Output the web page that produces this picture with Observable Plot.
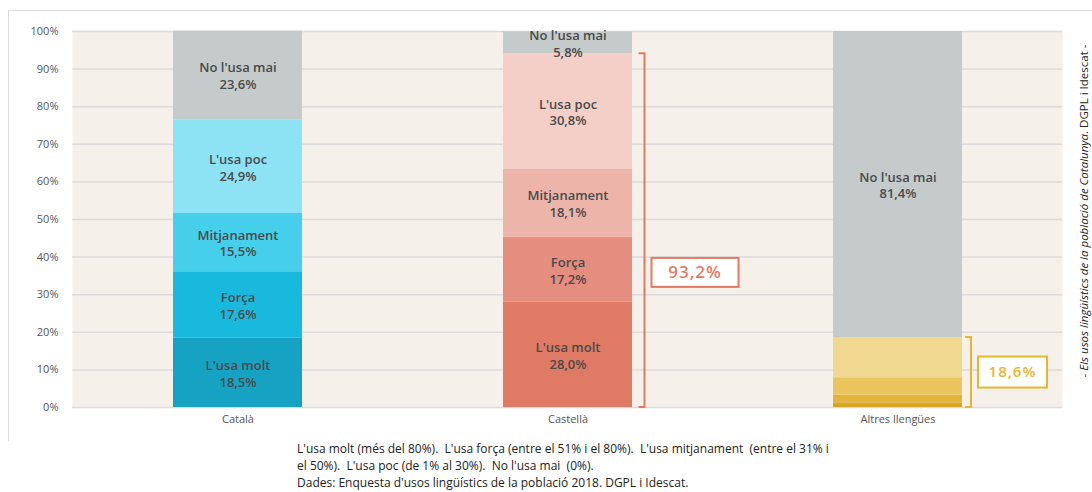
<!DOCTYPE html>
<html><head><meta charset="utf-8">
<script src="https://cdn.jsdelivr.net/npm/d3@7"></script>
<script src="https://cdn.jsdelivr.net/npm/@observablehq/plot@0.6"></script>
<style>
body{margin:0;background:#fff;font-family:"Open Sans",sans-serif;}
#wrap{position:relative;width:1092px;height:492px;overflow:hidden;}
#frame{position:absolute;left:8px;top:10px;width:1200px;height:430px;border-left:1px solid #dcdcdc;border-top:1px solid #dcdcdc;}
#chart{position:absolute;left:0;top:0;}
#note{position:absolute;left:297px;top:440px;font-size:12px;line-height:17px;color:#222;white-space:pre;}
#side{position:absolute;left:1083px;top:211px;transform:translate(-50%,-50%) rotate(-90deg);white-space:nowrap;font-size:11.5px;color:#222;}
</style></head>
<body>
<div id="wrap">
  <div id="frame"></div>
  <div id="chart"></div>
  <div id="side">- <i>Els usos lingüístics de la població de Catalunya</i>. DGPL i Idescat -</div>
  <div id="note">L'usa molt (més del 80%).  L'usa força (entre el 51% i el 80%).  L'usa mitjanament  (entre el 31% i
el 50%).  L'usa poc (de 1% al 30%).  No l'usa mai  (0%).
Dades: Enquesta d'usos lingüístics de la població 2018. DGPL i Idescat.</div>
</div>
<script>
const languages = ["Català", "Castellà", "Altres llengües"];
const categories = ["L'usa molt", "Força", "Mitjanament", "L'usa poc", "No l'usa mai"];
const catala   = [18.5, 17.6, 15.5, 24.9, 23.6];
const castella = [28.0, 17.2, 18.1, 30.8, 5.8];
const altres   = [1.2, 2.1, 4.6, 10.7, 81.4];
const yTicks = [0,10,20,30,40,50,60,70,80,90,100];
const totals = {"Castellà": 93.2, "Altres llengües": 18.6};

const palettes = {
  "Català":          ["#15a2c3", "#18b9dd", "#45cfea", "#8de2f4", "#c4cbca"],
  "Castellà":        ["#df7a65", "#e58d7e", "#edb5aa", "#f3cfc8", "#c4cbca"],
  "Altres llengües": ["#d8a420", "#e2b53a", "#eac45c", "#f1d890", "#c4cbca"]
};

const fmt = v => v.toFixed(1).replace(".", ",") + "%";
const series = [catala, castella, altres];
const rows = languages.flatMap((lang, i) => series[i].map((v, j) => ({
  lang, cat: categories[j], value: v, color: palettes[lang][j],
  label: (i < 2 || j === 4) ? categories[j] + "\n" + fmt(v) : null
})));

// annotation styling (not data)
const brackets = [
  {lang: "Castellà", color: "#e27a63", off: 12.5, boxCenter: 35.8, boxW: 87, boxH: 29, fs: 17},
  {lang: "Altres llengües", color: "#e8b62e", off: 9, boxCenter: 9.3, boxW: 69, boxH: 31, fs: 15}
];

function bracketMark(index, scales) {
  const x = scales.x, y = scales.y;
  const bw = typeof x.bandwidth === "function" ? x.bandwidth() : (x.bandwidth || 0);
  const g = d3.create("svg:g");
  for (const b of brackets) {
    const vals = series[languages.indexOf(b.lang)];
    const top = d3.sum(vals.slice(0, 4));
    const lx = x(b.lang) + bw + b.off;
    const y0 = y(0), y1 = y(top);
    g.append("path")
      .attr("d", `M${lx-6},${y1}H${lx}V${y0}H${lx-6}`)
      .attr("fill", "none").attr("stroke", b.color).attr("stroke-width", 2);
    const cy = y(b.boxCenter);
    g.append("rect")
      .attr("x", lx + 7).attr("y", cy - b.boxH/2)
      .attr("width", b.boxW).attr("height", b.boxH)
      .attr("fill", "#fff").attr("stroke", b.color).attr("stroke-width", 2);
    g.append("text")
      .attr("x", lx + 7 + b.boxW/2).attr("y", cy)
      .attr("dy", "0.35em").attr("text-anchor", "middle")
      .attr("fill", b.color).attr("font-size", b.fs).attr("font-weight", 600)
      .attr("letter-spacing", "1px")
      .text(fmt(totals[b.lang]));
  }
  return g.node();
}

const chart = Plot.plot({
  width: 1092, height: 432,
  marginLeft: 72, marginRight: 30, marginTop: 31, marginBottom: 25,
  style: {fontFamily: "Open Sans", fontSize: "11px", color: "#555", background: "transparent"},
  x: {domain: languages, paddingInner: 0.61, paddingOuter: 0.305, label: null, tickSize: 0, tickPadding: 8},
  y: {domain: [0, 100], ticks: yTicks, tickFormat: d => d + "%", label: null, tickSize: 0, tickPadding: 14},
  color: {type: "identity"},
  marks: [
    Plot.frame({fill: "#f5f0ea", stroke: "none"}),
    Plot.ruleY(yTicks, {stroke: "#dcdcdc", strokeWidth: 1.5}),
    Plot.barY(rows, {x: "lang", y: "value", fill: "color"}),
    Plot.text(rows, Plot.stackY({x: "lang", y: "value", text: "label", fill: "#4a4a4a",
      fontWeight: 600, fontSize: 13, lineHeight: 1.3})),
    bracketMark
  ]
});
document.getElementById("chart").appendChild(chart);
</script>
</body></html>
